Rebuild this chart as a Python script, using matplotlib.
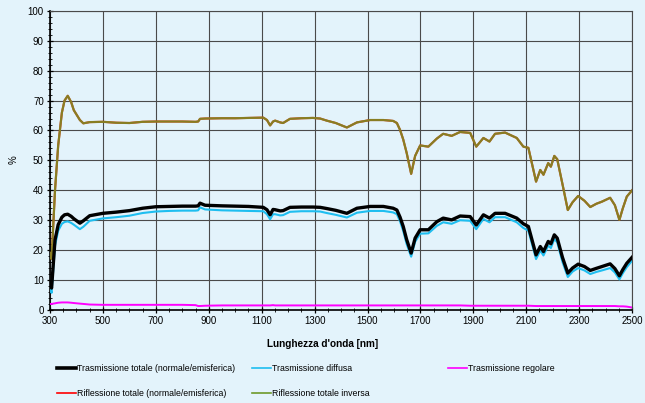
import matplotlib
matplotlib.use('Agg')
from matplotlib import pyplot as plt
from matplotlib.lines import Line2D
from matplotlib.ticker import MultipleLocator

plt.rcParams['font.family'] = ['Liberation Sans', 'DejaVu Sans']

# lunghezza d'onda [nm]
wl = [300, 306, 319, 331, 345, 355, 367, 380, 390, 413, 426, 450, 500, 550, 600, 650, 700,
      750, 800, 850, 860, 867, 886, 950, 1000, 1050, 1106, 1120, 1132, 1143, 1151,
      1170, 1181, 1207, 1250, 1294, 1321, 1346, 1380, 1422, 1460, 1510, 1560, 1597,
      1611, 1623, 1635, 1648, 1665, 1680, 1699, 1730, 1762, 1786, 1818, 1850, 1888,
      1911, 1938, 1961, 1982, 2020, 2064, 2089, 2108, 2137, 2153, 2165, 2183, 2193,
      2206, 2217, 2237, 2257, 2275, 2296, 2320, 2342, 2365, 2386, 2417, 2435, 2452,
      2465, 2480, 2500]

# riflessione totale (normale/emisferica) e inversa: le due curve coincidono
rifl_totale = [19, 17, 40, 55, 66, 70.0, 71.6, 69.5, 66.8, 63.5, 62.4, 62.8, 62.9, 62.6, 62.5, 62.9, 63.0,
               63.0, 63.0, 62.9, 63.0, 63.9, 64.0, 64.1, 64.1, 64.2, 64.3, 63.5, 61.7, 63.0, 63.3,
               62.7, 62.5, 63.9, 64.1, 64.2, 64.0, 63.3, 62.5, 61.0, 62.7, 63.5, 63.5, 63.2,
               62.5, 60.2, 57.0, 52.5, 45.5, 51.5, 55.0, 54.6, 57.3, 58.9, 58.2, 59.5, 59.2,
               54.6, 57.5, 56.3, 58.9, 59.3, 57.5, 54.6, 54.2, 42.9, 46.8, 45.2, 49.1, 47.9,
               51.5, 50.4, 42.0, 33.4, 36.0, 38.1, 36.5, 34.4, 35.5, 36.2, 37.5, 35.0, 30.1,
               34.0, 37.9, 40.0]
rifl_inversa = [19, 17, 40, 55, 66, 70.0, 71.6, 69.5, 66.8, 63.5, 62.4, 62.8, 62.9, 62.6, 62.5, 62.9, 63.0,
                63.0, 63.0, 62.9, 63.0, 63.9, 64.0, 64.1, 64.1, 64.2, 64.3, 63.5, 61.7, 63.0, 63.3,
                62.7, 62.5, 63.9, 64.1, 64.2, 64.0, 63.3, 62.5, 61.0, 62.7, 63.5, 63.5, 63.2,
                62.5, 60.2, 57.0, 52.5, 45.5, 51.5, 55.0, 54.6, 57.3, 58.9, 58.2, 59.5, 59.2,
                54.6, 57.5, 56.3, 58.9, 59.3, 57.5, 54.6, 54.2, 42.9, 46.8, 45.2, 49.1, 47.9,
                51.5, 50.4, 42.0, 33.4, 36.0, 38.1, 36.5, 34.4, 35.5, 36.2, 37.5, 35.0, 30.1,
                34.0, 37.9, 40.0]
tras_totale = [9.0, 7.3, 23.4, 28.5, 31.0, 31.8, 32.0, 31.3, 30.5, 29.0, 29.8, 31.5, 32.3, 32.7, 33.2, 34.0, 34.5,
               34.6, 34.7, 34.7, 34.8, 35.7, 35.0, 34.8, 34.7, 34.6, 34.3, 33.5, 31.8, 33.6, 33.5,
               33.1, 33.2, 34.3, 34.4, 34.4, 34.3, 33.9, 33.3, 32.3, 34.0, 34.6, 34.6, 34.0,
               33.4, 31.0, 27.9, 23.5, 19.0, 24.0, 26.8, 26.8, 29.5, 30.7, 30.1, 31.4, 31.2,
               28.4, 31.8, 30.7, 32.3, 32.3, 30.7, 28.8, 27.9, 18.4, 21.2, 19.5, 22.9, 22.1,
               25.1, 24.0, 17.5, 12.3, 14.0, 15.3, 14.5, 13.2, 13.9, 14.5, 15.4, 13.8, 11.4,
               13.5, 15.6, 17.6]
tras_diffusa = [7.5, 5.7, 21.5, 26.5, 28.8, 29.4, 29.6, 29.1, 28.5, 27.0, 27.8, 29.8, 30.6, 31.0, 31.5, 32.4, 32.9,
                33.1, 33.2, 33.2, 33.3, 34.3, 33.6, 33.3, 33.2, 33.1, 33.0, 32.0, 30.3, 32.0, 32.0,
                31.6, 31.7, 32.8, 33.0, 33.0, 32.9, 32.4, 31.8, 30.9, 32.5, 33.1, 33.1, 32.6,
                32.0, 29.6, 26.4, 22.0, 17.8, 22.8, 25.5, 25.6, 28.1, 29.3, 28.8, 30.0, 29.8,
                27.0, 30.4, 29.3, 31.0, 31.0, 29.3, 27.4, 26.5, 17.0, 19.8, 18.2, 21.5, 20.7,
                23.7, 22.6, 16.0, 11.0, 12.8, 14.0, 13.2, 12.0, 12.7, 13.2, 14.0, 12.5, 10.2,
                12.3, 14.3, 16.5]
tras_regolare = [2.0, 2.0, 2.2, 2.4, 2.5, 2.5, 2.5, 2.4, 2.3, 2.1, 2.0, 1.8, 1.7, 1.7, 1.7, 1.7, 1.7,
                 1.7, 1.7, 1.6, 1.3, 1.3, 1.4, 1.5, 1.5, 1.5, 1.5, 1.5, 1.5, 1.6, 1.5,
                 1.5, 1.5, 1.5, 1.5, 1.5, 1.5, 1.5, 1.5, 1.5, 1.5, 1.5, 1.5, 1.5,
                 1.5, 1.5, 1.5, 1.5, 1.5, 1.5, 1.5, 1.5, 1.5, 1.5, 1.5, 1.5, 1.4,
                 1.4, 1.4, 1.4, 1.4, 1.4, 1.4, 1.4, 1.4, 1.3, 1.3, 1.3, 1.3, 1.3,
                 1.3, 1.3, 1.3, 1.3, 1.3, 1.3, 1.3, 1.3, 1.3, 1.3, 1.3, 1.3, 1.2,
                 1.2, 1.1, 0.8]

tick_x = [300, 500, 700, 900, 1100, 1300, 1500, 1700, 1900, 2100, 2300, 2500]

nomi = ['Trasmissione totale (normale/emisferica)', 'Trasmissione diffusa',
        'Trasmissione regolare', 'Riflessione totale (normale/emisferica)',
        'Riflessione totale inversa']

sfondo = '#E3F3FB'
c_nero, c_blu, c_rosa, c_rosso, c_verde = '#000000', '#1EBEF0', '#FF00FF', '#FF0000', '#6E9A2A'

fig = plt.figure(figsize=(6.45, 4.03), dpi=100, facecolor=sfondo)
ax = fig.add_axes([0.0775, 0.231, 0.9025, 0.742])
ax.set_facecolor(sfondo)

ax.plot(wl, tras_regolare, color=c_rosa, lw=1.4, zorder=3)
ax.plot(wl, tras_diffusa, color=c_blu, lw=1.5, zorder=3)
ax.plot(wl, tras_totale, color=c_nero, lw=2.4, zorder=4)
ax.plot(wl, rifl_totale, color=c_rosso, lw=1.5, zorder=3)
ax.plot(wl, rifl_inversa, color=c_verde, lw=1.6, alpha=0.82, zorder=3)

ax.set_xlim(300, 2500)
ax.set_ylim(0, 100)
ax.set_xticks(tick_x)
ax.xaxis.set_minor_locator(MultipleLocator(50))
ax.yaxis.set_major_locator(MultipleLocator(10))
ax.yaxis.set_minor_locator(MultipleLocator(2))
ax.grid(True, which='major', color='#4a4a4a', lw=0.8)
ax.set_axisbelow(True)
ax.tick_params(which='major', direction='inout', length=5, width=0.9, labelsize=7, pad=2)
ax.tick_params(which='minor', direction='inout', length=3, width=0.6)
for s in ['top', 'right']:
    ax.spines[s].set_color('#4a4a4a')
    ax.spines[s].set_linewidth(0.8)
for s in ['left', 'bottom']:
    ax.spines[s].set_linewidth(1.2)

fig.text(14 / 645, 1 - 160 / 403, '%', rotation=90, ha='center', va='center', fontsize=7)
fig.text(0.5, 1 - 344 / 403, "Lunghezza d'onda [nm]", ha='center', va='center',
         fontsize=7.2, fontweight='bold')

# legenda in tre colonne, posizionate come nell'originale
handles = [Line2D([], [], color=c_nero, lw=2.6), Line2D([], [], color=c_blu, lw=1.2),
           Line2D([], [], color=c_rosa, lw=1.2), Line2D([], [], color=c_rosso, lw=1.2),
           Line2D([], [], color=c_verde, lw=1.2)]
colonne = [([0, 3], 58), ([1, 4], 253), ([2], 449)]
for idx, x0 in colonne:
    leg = fig.legend([handles[i] for i in idx], [nomi[i] for i in idx],
                     loc='upper left', bbox_to_anchor=(x0 / 645 - 0.008, 1 - 360 / 403),
                     frameon=False, fontsize=6.3, handlelength=2.2, handletextpad=0.1,
                     labelspacing=1.75, borderpad=0)

fig.savefig('out.png', dpi=100, facecolor=sfondo)
